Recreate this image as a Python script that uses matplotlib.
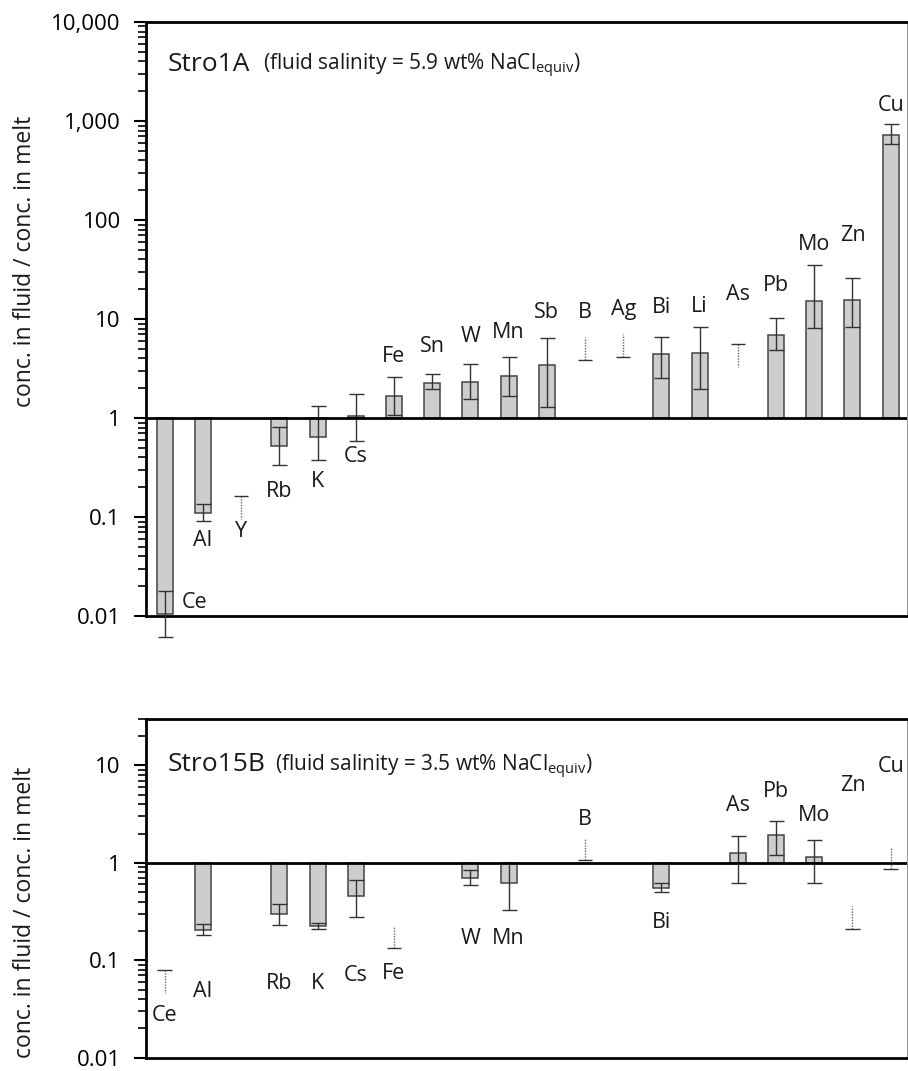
import matplotlib.pyplot as plt
from matplotlib.ticker import FixedLocator, LogLocator, NullFormatter

plt.rcParams['font.family'] = ['Open Sans', 'DejaVu Sans']
plt.rcParams['mathtext.fontset'] = 'custom'
plt.rcParams['mathtext.rm'] = 'Open Sans'

# element order along the x axis (same slots in both panels)
order = ['Ce', 'Al', 'Y', 'Rb', 'K', 'Cs', 'Fe', 'Sn', 'W', 'Mn',
         'Sb', 'B', 'Ag', 'Bi', 'Li', 'As', 'Pb', 'Mo', 'Zn', 'Cu']

# ---- Stro1A : fluid/melt ratio, with error range
a_el = ['Ce', 'Al', 'Rb', 'K', 'Cs', 'Fe', 'Sn', 'W', 'Mn', 'Sb',
        'Bi', 'Li', 'Pb', 'Mo', 'Zn', 'Cu']
a_val = [0.0105, 0.109, 0.527, 0.65, 1.05, 1.66, 2.28, 2.32, 2.64, 3.47,
         4.39, 4.52, 6.88, 15.2, 15.5, 718]
a_lo = [0.0061, 0.0916, 0.339, 0.38, 0.58, 1.08, 1.97, 1.56, 1.68, 1.30,
        2.55, 1.98, 4.82, 8.1, 8.3, 582]
a_hi = [0.0177, 0.134, 0.81, 1.31, 1.75, 2.62, 2.81, 3.5, 4.12, 6.48,
        6.6, 8.37, 10.2, 35.3, 25.7, 937]
# limits only (max = upper limit, min = lower limit)
a_lim_el = ['Y', 'B', 'Ag', 'As']
a_lim_val = [0.164, 3.84, 4.12, 5.58]
a_lim_kind = ['max', 'min', 'min', 'max']

# ---- Stro15B
b_el = ['Al', 'Rb', 'K', 'Cs', 'W', 'Mn', 'Bi', 'As', 'Pb', 'Mo']
b_val = [0.203, 0.296, 0.224, 0.461, 0.695, 0.624, 0.551, 1.25, 1.92, 1.16]
b_lo = [0.181, 0.228, 0.207, 0.278, 0.59, 0.33, 0.506, 0.624, 1.19, 0.62]
b_hi = [0.233, 0.374, 0.242, 0.664, 0.838, 0.99, 0.614, 1.9, 2.68, 1.71]
b_lim_el = ['Ce', 'Fe', 'B', 'Zn', 'Cu']
b_lim_val = [0.0787, 0.132, 1.06, 0.21, 0.857]
b_lim_kind = ['max', 'min', 'min', 'min', 'min']

# label placement (y in data units)
a_lab = {'Ce': 0.0138, 'Al': 0.058, 'Y': 0.072, 'Rb': 0.18, 'K': 0.227,
         'Cs': 0.408, 'Fe': 4.19, 'Sn': 5.32, 'W': 6.68, 'Mn': 7.33,
         'Sb': 11.7, 'B': 11.7, 'Ag': 12.5, 'Bi': 13.1, 'Li': 13.5,
         'As': 17.8, 'Pb': 21.6, 'Mo': 57, 'Zn': 69, 'Cu': 1436}
b_lab = {'Ce': 0.0272, 'Al': 0.0475, 'Rb': 0.058, 'K': 0.058, 'Cs': 0.07,
         'Fe': 0.0734, 'W': 0.167, 'Mn': 0.166, 'B': 2.78, 'Bi': 0.246,
         'As': 3.85, 'Pb': 5.42, 'Mo': 3.05, 'Zn': 6.24, 'Cu': 9.7}

FS = 15.5
BAR_W = 0.42


def draw(ax, el, val, lo, hi, lim_el, lim_val, lim_kind, labels, ylim, ticks,
         ticklabels, name, salinity, title_y, sub_x):
    x = [order.index(e) for e in el]
    heights = [v - 1 for v in val]
    ax.bar(x, heights, bottom=1, width=BAR_W, color='#cdcdcd',
           edgecolor='#444444', linewidth=1.1, zorder=2)
    yerr = [[v - l for v, l in zip(val, lo)], [h - v for v, h in zip(val, hi)]]
    eb = ax.errorbar(x, val, yerr=yerr, fmt='none', ecolor='#333333',
                     elinewidth=1.0, capsize=5.4, capthick=1.0, zorder=3)
    for art in list(eb.lines[1]) + list(eb.lines[2]):
        art.set_clip_on(False)

    for e, v, k in zip(lim_el, lim_val, lim_kind):
        xi = order.index(e)
        end = v * 1.7 if k == 'min' else v / 1.7
        ax.vlines(xi, v, end, colors='#666666', linestyles=(0, (1, 1)),
                  linewidth=1.0, zorder=3)
        ax.hlines(v, xi - 0.19, xi + 0.19, colors='#333333', linewidth=1.0,
                  zorder=3)

    for e, yl in labels.items():
        xi = order.index(e)
        if name == 'Stro1A' and e == 'Ce':
            xi += 0.78
        ax.text(xi, yl, e, ha='center', va='center', fontsize=FS,
                color='#1a1a1a', clip_on=False)

    ax.axhline(1, color='black', linewidth=2.0, zorder=4)
    ax.set_yscale('log')
    ax.set_ylim(*ylim)
    ax.set_xlim(-0.497, 19.43)
    ax.yaxis.set_major_locator(FixedLocator(ticks))
    ax.set_yticklabels(ticklabels)
    ax.yaxis.set_minor_locator(LogLocator(base=10, subs=range(2, 10)))
    ax.yaxis.set_minor_formatter(NullFormatter())
    ax.tick_params(axis='y', which='major', length=9, width=1.5, pad=9,
                   labelsize=16, direction='out')
    ax.tick_params(axis='y', which='minor', length=6, width=1.2,
                   direction='out')
    ax.set_xticks([])
    for s in ['left', 'top', 'bottom']:
        ax.spines[s].set_linewidth(2.0)
        ax.spines[s].set_color('black')
    ax.spines['right'].set_linewidth(0.8)
    ax.spines['right'].set_color('#999999')

    ax.text(0.029, title_y, name, transform=ax.transAxes, fontsize=19,
            ha='left', va='baseline', color='#1a1a1a')
    ax.text(sub_x, title_y,
            '(fluid salinity = ' + salinity + r' wt% NaCl$_\mathregular{equiv}$)',
            transform=ax.transAxes, fontsize=15, ha='left', va='baseline',
            color='#1a1a1a')


fig = plt.figure(figsize=(9.08, 10.71), dpi=100)
ax1 = fig.add_axes([0.1605, 0.4248, 0.8385, 0.5547])
ax2 = fig.add_axes([0.1605, 0.0125, 0.8385, 0.3162])

draw(ax1, a_el, a_val, a_lo, a_hi, a_lim_el, a_lim_val, a_lim_kind, a_lab,
     (0.01, 10000), [0.01, 0.1, 1, 10, 100, 1000, 10000],
     ['0.01', '0.1', '1', '10', '100', '1,000', '10,000'],
     'Stro1A', '5.9', 0.918, 0.154)
draw(ax2, b_el, b_val, b_lo, b_hi, b_lim_el, b_lim_val, b_lim_kind, b_lab,
     (0.01, 30), [0.01, 0.1, 1, 10],
     ['0.01', '0.1', '1', '10'],
     'Stro15B', '3.5', 0.846, 0.170)

ylab = 'conc. in fluid / conc. in melt'
fig.text(25 / 908, 1 - 261 / 1071, ylab, rotation=90, ha='center',
         va='center', fontsize=16.5, color='#1a1a1a')
fig.text(25 / 908, 1 - 912 / 1071, ylab, rotation=90, ha='center',
         va='center', fontsize=16.5, color='#1a1a1a')

fig.savefig('out.png', dpi=100)
